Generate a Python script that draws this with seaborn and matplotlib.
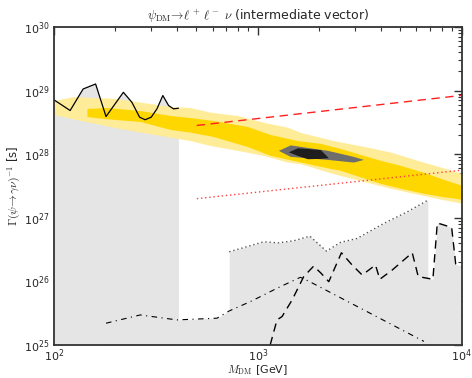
import numpy as np
import pandas as pd
import matplotlib
matplotlib.use("Agg")
import matplotlib.pyplot as plt
import seaborn as sns

# ---------------- data (GeV, seconds) ----------------
# solid black constraint (100-400 GeV)
solid_M = [100, 120, 139, 160, 180, 219, 241, 263, 280, 300, 320, 342, 365, 386, 408]
solid_Y = [7.15e28, 4.86e28, 1.06e29, 1.27e29, 3.91e28, 9.4e28, 6.56e28, 3.82e28,
           3.48e28, 3.82e28, 5.16e28, 8.36e28, 5.82e28, 5.16e28, 5.28e28]

# dotted (gray) constraint
dotted_M = [724, 1067, 1265, 1500, 1799, 2173, 2543, 3070, 4150, 5408, 6824]
dotted_Y = [2.92e26, 4.19e26, 4.04e26, 4.35e26, 5.15e26, 2.99e26, 4.10e26, 4.74e26,
            8.15e26, 1.24e27, 1.89e27]

# dashed black constraint
dashed_M = [1150, 1242, 1315, 1473, 1680, 1880, 2045, 2230, 2572, 2902, 3252, 3779,
            3968, 4565, 5724, 6126, 7228, 7600, 8935, 9354, 10000]
dashed_Y = [1.0e25, 2.48e25, 2.80e25, 5.1e25, 1.19e26, 1.74e26, 1.34e26, 9.9e25,
            2.82e26, 1.81e26, 1.26e26, 1.81e26, 1.08e26, 1.51e26, 2.82e26, 1.19e26,
            1.08e26, 8.3e26, 7.05e26, 1.88e26, 1.70e26]

# dash-dot constraint
dashdot_M = [180, 265, 401, 631, 725, 919, 1067, 1242, 1618, 1798, 3190, 6530]
dashdot_Y = [2.2e25, 2.97e25, 2.48e25, 2.64e25, 3.44e25, 4.81e25, 6.1e25, 7.8e25,
             1.16e26, 9.9e25, 3.79e25, 1.14e25]

# red projections
red_dash_M = [502, 10000]
red_dash_Y = [2.83e28, 8.4e28]
red_dot_M = [502, 10000]
red_dot_Y = [2.0e27, 5.6e27]

# outer (light yellow) band
light_M = [100, 124, 204, 372, 466, 584, 793, 1064, 1396, 1618, 2350, 3452, 4478,
           6078, 7885, 10000]
light_hi = [6.97e28, 8.05e28, 7.49e28, 5.61e28, 5.42e28, 4.57e28, 4.06e28, 3.18e28,
            2.66e28, 2.20e28, 1.64e28, 1.29e28, 1.08e28, 8.0e27, 6.28e27, 5.0e27]
light_lo = [4.20e28, 3.60e28, 2.58e28, 1.85e28, 1.64e28, 1.37e28, 1.15e28, 9.58e27,
            7.52e27, 7.09e27, 4.94e27, 3.6e27, 2.91e27, 2.35e27, 1.96e27, 1.70e27]

# inner (gold) band
gold_M = [145, 182, 265, 372, 466, 604, 888, 1152, 1564, 2028, 2543, 3999, 5014,
          6507, 7885, 10000]
gold_hi = [5.23e28, 5.42e28, 4.86e28, 4.06e28, 3.77e28, 3.39e28, 2.73e28, 2.04e28,
           1.64e28, 1.48e28, 1.23e28, 8.0e27, 6.67e27, 5.19e27, 4.18e27, 3.24e27]
gold_lo = [3.91e28, 3.60e28, 3.27e28, 2.45e28, 2.22e28, 1.90e28, 1.32e28, 9.58e27,
           7.71e27, 6.44e27, 5.57e27, 3.48e27, 2.91e27, 2.43e27, 2.18e27, 1.96e27]

# best-fit regions
blob_M = [1261, 1444, 2196, 2947, 3299]
blob_hi = [1.15e28, 1.40e28, 1.15e28, 9.23e27, 8.28e27]
blob_lo = [1.15e28, 9.23e27, 8.28e27, 7.52e27, 8.28e27]
core_M = [1412, 1564, 1751, 2028, 2220]
core_hi = [1.09e28, 1.26e28, 1.23e28, 1.18e28, 8.81e27]
core_lo = [1.09e28, 9.58e27, 8.49e27, 8.59e27, 8.81e27]

# ---------------- plotting ----------------
sns.set_style("white")
plt.rcParams['font.family'] = ['DejaVu Sans']
plt.rcParams['mathtext.fontset'] = 'cm'

fig = plt.figure(figsize=(4.72, 3.78), dpi=100)
ax = fig.add_axes([0.1144, 0.0873, 0.8636, 0.8413])
ax.set_xscale("log")
ax.set_yscale("log")

ymin = 1e25
gray = "#e5e5e5"
for M, Y in [(solid_M, solid_Y), (dashdot_M, dashdot_Y), (dotted_M, dotted_Y), (dashed_M, dashed_Y)]:
    ax.fill_between(M, Y, ymin, color=gray, lw=0, zorder=1)

ax.fill_between(light_M, light_lo, light_hi, color="#ffec99", lw=0, zorder=2)
ax.fill_between(gold_M, gold_lo, gold_hi, color="#ffd700", lw=0, zorder=3)
ax.fill_between(blob_M, blob_lo, blob_hi, color="#6e6e6e", lw=0, zorder=4)
ax.fill_between(core_M, core_lo, core_hi, color="#1e1e1e", lw=0, zorder=5)

def line(M, Y, **kw):
    df = pd.DataFrame({"M": M, "Y": Y})
    sns.lineplot(data=df, x="M", y="Y", ax=ax, sort=False, estimator=None, **kw)

line(solid_M, solid_Y, color="black", lw=0.9, zorder=6)
line(dotted_M, dotted_Y, color="#555555", lw=1.0, linestyle=(0, (1, 2)), zorder=6)
line(dashed_M, dashed_Y, color="black", lw=1.0, linestyle=(0, (6, 4)), zorder=6)
line(dashdot_M, dashdot_Y, color="black", lw=0.8, linestyle=(0, (5, 4, 1, 4)), zorder=6)
line(red_dash_M, red_dash_Y, color="#ff2020", lw=1.0, linestyle=(0, (6, 4)), zorder=6)
line(red_dot_M, red_dot_Y, color="#ff4040", lw=1.0, linestyle=(0, (1, 2)), zorder=6)

ax.set_xlim(100, 1e4)
ax.set_ylim(1e25, 1e30)
ax.set_xlabel(r"$M_{\rm DM}$ [GeV]", fontsize=8, labelpad=-0.5)
ax.set_ylabel(r"$\Gamma(\psi\!\to\!\gamma\nu)^{-1}$ [s]", fontsize=8.5, labelpad=1)
ax.set_title(r"$\psi_{\rm DM}\!\to\!\ell^+\,\ell^-\ \nu$ (intermediate vector)", fontsize=9, pad=5)

ax.tick_params(which="both", direction="in", top=True, right=True, labelsize=8, color="#333333", pad=3)
ax.tick_params(axis="x", which="both", pad=2)
ax.tick_params(which="major", length=6, width=1.0)
ax.tick_params(which="minor", length=3, width=0.8)
for s in ax.spines.values():
    s.set_linewidth(1.3)
    s.set_color("#333333")
    s.set_zorder(10)

fig.savefig("out.png", dpi=100)
